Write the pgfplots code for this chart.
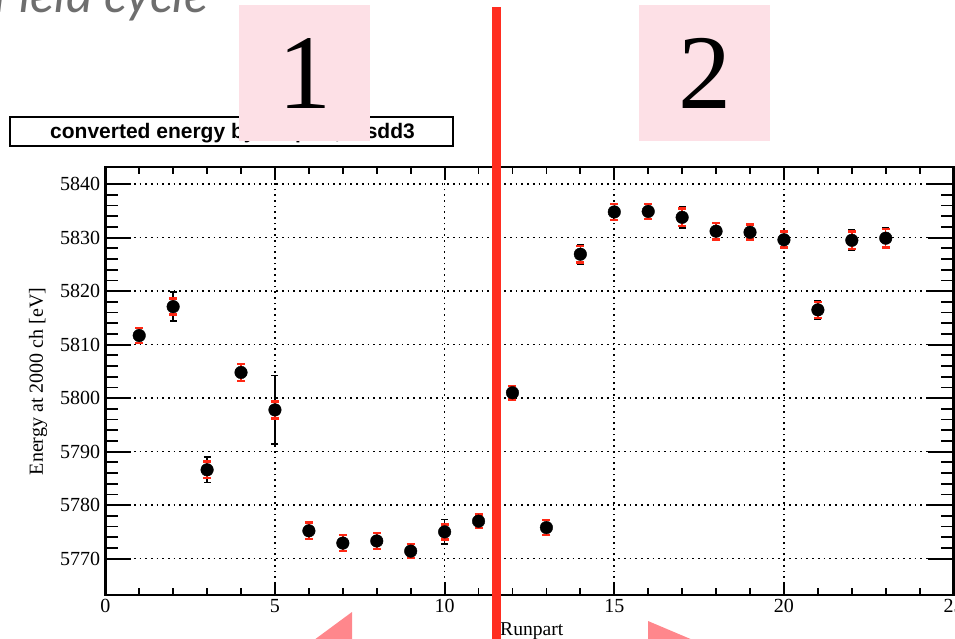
\documentclass[border=0pt]{standalone}
\usepackage{pgfplots}
\pgfplotsset{compat=1.18}
\usepackage{pgfplotstable}
\usepackage{fontspec}
\setmainfont{Liberation Serif}
\newfontfamily\arialf{Liberation Sans}
\newfontfamily\latof{Lato}
\definecolor{pinkbox}{RGB}{253,224,230}
\definecolor{redline}{RGB}{255,45,32}
\definecolor{pinktri}{RGB}{255,135,140}
\definecolor{graytitle}{RGB}{110,110,110}
\definecolor{errred}{RGB}{255,40,20}
\pgfplotstableread{
x y eb er
1 5811.7 1.5 1.4
2 5817.1 2.7 1.5
3 5786.6 2.4 1.5
4 5804.8 1.7 1.6
5 5797.8 6.4 1.6
6 5775.2 1.6 1.5
7 5772.9 1.5 1.5
8 5773.3 1.5 1.5
9 5771.4 1.3 1.3
10 5775.0 2.3 1.4
11 5777.0 1.3 1.3
12 5801.0 1.3 1.3
13 5775.8 1.4 1.4
14 5826.9 1.8 1.5
15 5834.8 1.5 1.5
16 5834.9 1.4 1.4
17 5833.8 2.0 1.6
18 5831.2 1.6 1.5
19 5831.0 1.5 1.4
20 5829.6 1.5 1.5
21 5816.5 1.7 1.5
22 5829.5 1.9 1.6
23 5829.9 1.9 1.7
}\datatable
\begin{document}
\begin{tikzpicture}
\useasboundingbox (0pt,0pt) rectangle (955pt,638pt);
\clip (0pt,0pt) rectangle (955pt,638pt);
% y ticks axis (long ticks)
\begin{axis}[
  at={(105.3pt,43pt)}, anchor=south west, scale only axis,
  width=848.3pt, height=428pt,
  xmin=0, xmax=25, ymin=5763.2, ymax=5843.2,
  xtick=\empty,
  ytick={5770,5780,...,5840}, minor y tick num=4,
  tick align=inside,
  major tick length=26pt, minor tick length=13pt,
  axis line style={line width=2.4pt},
  every tick/.style={black, line width=1.8pt},
  yticklabel style={font=\fontsize{20}{24}\selectfont, inner sep=0pt, xshift=-5pt},
  /pgf/number format/assume math mode=true,
  /pgf/number format/1000 sep={},
]
\end{axis}
% main axis
\begin{axis}[
  at={(105.3pt,43pt)}, anchor=south west, scale only axis,
  width=848.3pt, height=428pt,
  xmin=0, xmax=25, ymin=5763.2, ymax=5843.2,
  xtick={0,5,...,25}, minor x tick num=4,
  ytick={5770,5780,...,5840}, yticklabels={},
  ytick style={draw=none},
  tick align=inside,
  major tick length=13pt, minor tick length=7pt,
  axis line style={line width=2.4pt},
  every tick/.style={black, line width=1.8pt},
  xmajorgrids, ymajorgrids,
  major grid style={black, line width=1.7pt, dash pattern=on 1.7pt off 4pt},
  xticklabel style={font=\fontsize{20}{24}\selectfont, inner sep=0pt, yshift=-4pt},
  /pgf/number format/assume math mode=true,
  /pgf/number format/1000 sep={},
]
\addplot[only marks, mark=none, error bars/.cd, y dir=both, y explicit,
  error bar style={black, line width=1.5pt},
  error mark options={rotate=90, mark size=3.5pt, black, line width=1.5pt}]
  table[x=x, y=y, y error=eb]{\datatable};
\addplot[only marks, mark=none, error bars/.cd, y dir=both, y explicit,
  error bar style={errred, line width=1.5pt},
  error mark options={rotate=90, mark size=4pt, errred, line width=2.6pt}]
  table[x=x, y=y, y error=er]{\datatable};
\addplot[only marks, mark=*, mark size=6.3pt, black, mark options={fill=black}]
  table[x=x, y=y]{\datatable};
\end{axis}
% y label
\node[rotate=90, anchor=base, font=\fontsize{20}{24}\selectfont] at (43pt,256.5pt) {Energy at 2000 ch [eV]};
% x label
\node[anchor=base west, inner sep=0pt, font=\fontsize{19.6}{24}\selectfont] at (500pt,3pt) {Runpart};
% title box
\draw[line width=1.6pt, fill=white] (10pt,492pt) rectangle (453pt,521pt);
\node[anchor=base west, inner sep=0pt, font=\arialf\bfseries\fontsize{21}{25}\selectfont] at (50pt,499pt) {converted energy by runpart,};
\node[anchor=base east, inner sep=0pt, font=\arialf\bfseries\fontsize{21}{25}\selectfont] at (415pt,499pt) {sdd3};
% slide title
\node[anchor=base east, inner sep=0pt, text=graytitle, font=\latof\itshape\fontsize{50}{58}\selectfont] at (208pt,625pt) {Field cycle};
% pink squares
\fill[pinkbox] (239pt,497pt) rectangle (370pt,633pt);
\fill[pinkbox] (639pt,497pt) rectangle (770pt,633pt);
\node[anchor=base, inner sep=0pt, font=\fontsize{106}{120}\selectfont] at (304.5pt,529pt) {1};
\node[anchor=base, inner sep=0pt, font=\fontsize{106}{120}\selectfont] at (704.5pt,529pt) {2};
% red line
\fill[redline] (492pt,-2pt) rectangle (500.7pt,631pt);
% triangles
\fill[pinktri] (352pt,26pt) -- (352pt,-5pt) -- (310pt,-5pt) -- cycle;
\fill[pinktri] (648pt,17pt) -- (648pt,-5pt) -- (700pt,-5pt) -- cycle;
\end{tikzpicture}
\end{document}
